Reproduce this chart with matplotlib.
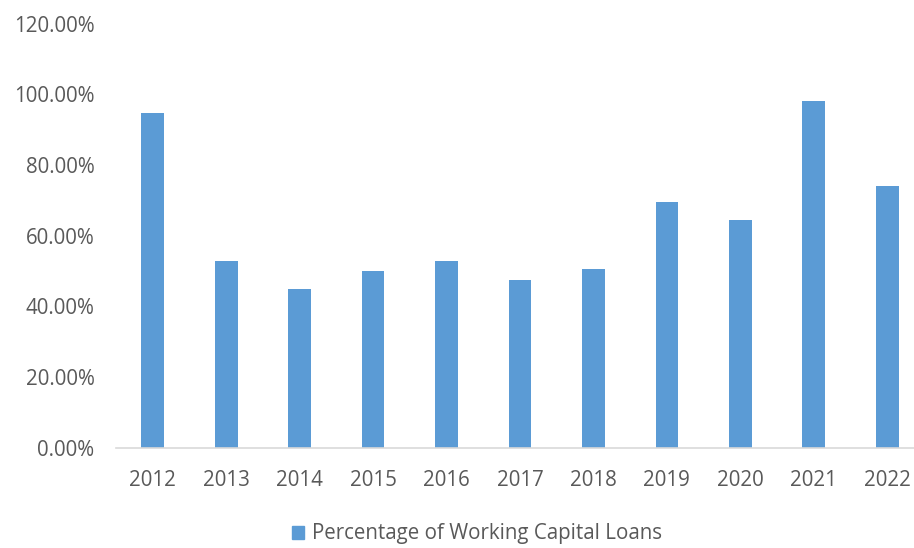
import matplotlib
matplotlib.use("Agg")
import matplotlib.pyplot as plt
from matplotlib.ticker import FuncFormatter
from matplotlib.patches import Patch

years = ["2012", "2013", "2014", "2015", "2016", "2017", "2018", "2019", "2020", "2021", "2022"]
share = [94.6, 52.8, 44.9, 50.0, 52.8, 47.3, 50.5, 69.6, 64.4, 98.2, 74.1]
y_ticks = [0, 20, 40, 60, 80, 100, 120]
series_name = "Percentage of Working Capital Loans"

bar_color = "#5B9BD5"
text_color = "#595959"

plt.rcParams["font.family"] = ["Open Sans", "DejaVu Sans"]

fig = plt.figure(figsize=(9.14, 5.48), dpi=100)
ax = fig.add_axes([116 / 914, 1 - 447.5 / 548, 808 / 914, (447.5 - 23.5) / 548])

x = list(range(len(years)))
ax.bar(x, share, width=0.31, color=bar_color, zorder=2)

ax.set_xlim(-0.5, len(years) - 0.5)
ax.set_ylim(0, 120)
ax.set_yticks(y_ticks)
ax.yaxis.set_major_formatter(FuncFormatter(lambda v, _: f"{v:.2f}%"))
ax.set_xticks(x)
ax.set_xticklabels(years)

for side in ("top", "right", "left"):
    ax.spines[side].set_visible(False)
ax.spines["bottom"].set_color("#D9D9D9")
ax.spines["bottom"].set_linewidth(1.2)

ax.tick_params(axis="both", length=0, colors=text_color, labelsize=14.8)
ax.tick_params(axis="y", pad=15.5)
ax.tick_params(axis="x", pad=16)

fig.legend(handles=[Patch(color=bar_color, label=series_name)],
           loc="center", bbox_to_anchor=(477 / 914, 1 - 534 / 548),
           frameon=False, fontsize=14.8, labelcolor=text_color,
           handlelength=0.6, handleheight=0.6, handletextpad=0.4)

fig.savefig("out.png", dpi=100, facecolor="white")
